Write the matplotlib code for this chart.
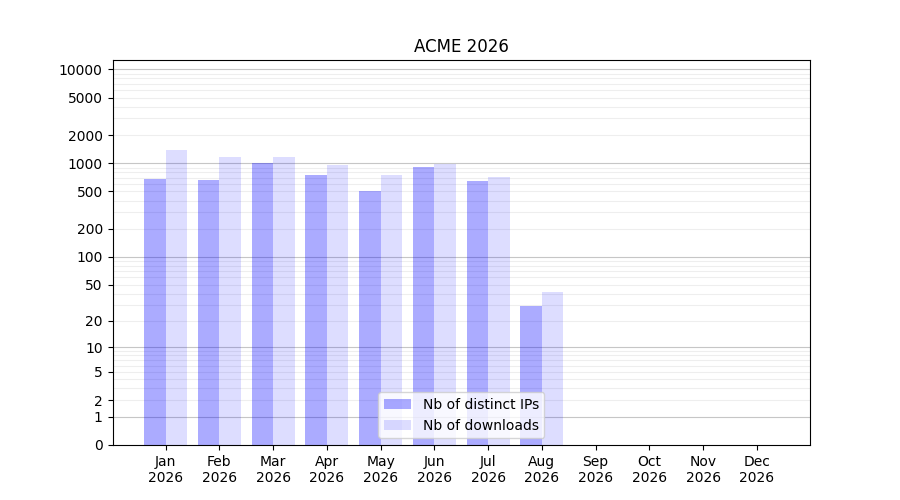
import numpy as np
import matplotlib
matplotlib.use("Agg")
import matplotlib.pyplot as plt

months = ["Jan", "Feb", "Mar", "Apr", "May", "Jun", "Jul", "Aug", "Sep", "Oct", "Nov", "Dec"]
year = "2026"
distinct_ips = [680, 664, 1000, 750, 507, 912, 648, 29, 0, 0, 0, 0]
downloads = [1386, 1167, 1167, 959, 750, 990, 715, 42, 0, 0, 0, 0]
ytick_values = [0, 1, 2, 5, 10, 20, 50, 100, 200, 500, 1000, 2000, 5000, 10000]
major_grid = [1, 10, 100, 1000, 10000]
minor_grid = [k * 10 ** n for n in range(4) for k in range(2, 10)]


def fwd(y):
    y = np.asarray(y, dtype=float)
    return np.log10(np.maximum(y + 1, 1e-12))


def inv(y):
    return 10 ** np.asarray(y, dtype=float) - 1


fig, ax = plt.subplots(figsize=(9, 5), dpi=100)
ax.set_yscale("function", functions=(fwd, inv))

x = np.arange(len(months))
w = 0.4
ax.bar(x - w / 2, distinct_ips, width=w, color="blue", alpha=0.33, label="Nb of distinct IPs", zorder=2)
ax.bar(x + w / 2, downloads, width=w, color="blue", alpha=0.135, label="Nb of downloads", zorder=2)

for v in minor_grid:
    ax.axhline(v, color="#eeeeee", linewidth=0.8, zorder=1)
for v in major_grid:
    ax.axhline(v, color="#c6c6c6", linewidth=0.8, zorder=1)

ax.set_ylim(0, 12588)
ax.set_yticks(ytick_values)
ax.set_yticklabels([str(v) for v in ytick_values])
ax.yaxis.set_minor_locator(matplotlib.ticker.NullLocator())
ax.set_xticks(x)
ax.set_xticklabels([f"{m}\n{year}" for m in months])
ax.set_title("ACME 2026")
ax.legend(loc="lower center")

fig.savefig("out.png", dpi=100)
